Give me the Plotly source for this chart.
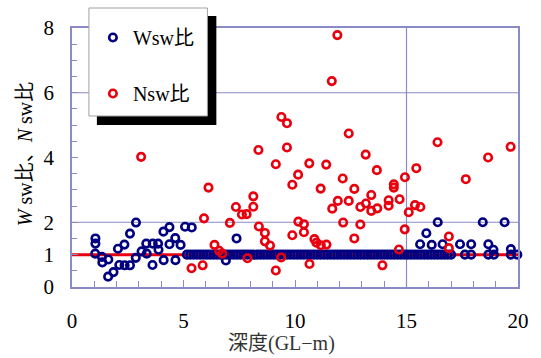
import plotly.graph_objects as go

# ---- data ----
wsw_x = [1.05, 1.05, 1.04, 1.34, 1.36, 1.63, 1.62, 1.86, 2.06, 2.12, 2.35, 2.36, 2.60, 2.60,
         2.87, 2.86, 3.12, 3.33, 3.35, 3.61, 3.62, 3.86, 3.88, 4.10, 4.11, 4.37, 4.37, 4.63,
         4.64, 4.87, 5.07, 5.37, 6.90, 7.38,
         5.15, 5.30, 5.45, 5.60, 5.75, 5.90, 6.05, 6.20, 6.35, 6.50, 6.65, 6.80, 6.95, 7.10,
         7.25, 7.40, 7.55, 7.70, 7.85, 8.00, 8.15, 8.30, 8.45, 8.60, 8.75, 8.90, 9.05, 9.20,
         9.35, 9.50, 9.65, 9.80, 9.95, 10.10, 10.25, 10.40, 10.55, 10.70, 10.85, 11.00, 11.15,
         11.30, 11.45, 11.60, 11.75, 11.90, 12.05, 12.20, 12.35, 12.50, 12.65, 12.80, 12.95,
         13.10, 13.25, 13.40, 13.55, 13.70, 13.85, 14.00, 14.15, 14.30, 14.45, 14.60, 14.75,
         14.90, 15.05, 15.20, 15.35, 15.50, 15.65, 15.80, 15.95, 16.10, 16.25, 16.40, 16.55,
         16.70, 16.85, 17.00,
         15.61, 15.89, 16.13, 16.40, 16.62, 17.40, 17.62, 17.90, 17.90, 18.42, 18.67, 18.67,
         18.90, 18.92, 19.40, 19.68, 19.68, 19.97]
wsw_y = [1.50, 1.34, 1.03, 0.93, 0.76, 0.85, 0.32, 0.46, 1.18, 0.68, 1.31, 0.67, 1.65, 0.67,
         1.99, 0.90, 1.10, 1.34, 1.03, 0.68, 1.34, 1.34, 1.15, 1.71, 0.83, 1.85, 1.32, 1.51,
         0.83, 1.30, 1.86, 1.84, 0.82, 1.50,
         1.0, 1.0, 1.0, 1.0, 1.0, 1.0, 1.0, 1.0, 1.0, 1.0, 1.0, 1.0, 1.0, 1.0,
         1.0, 1.0, 1.0, 1.0, 1.0, 1.0, 1.0, 1.0, 1.0, 1.0, 1.0, 1.0, 1.0, 1.0,
         1.0, 1.0, 1.0, 1.0, 1.0, 1.0, 1.0, 1.0, 1.0, 1.0, 1.0, 1.0, 1.0,
         1.0, 1.0, 1.0, 1.0, 1.0, 1.0, 1.0, 1.0, 1.0, 1.0, 1.0, 1.0,
         1.0, 1.0, 1.0, 1.0, 1.0, 1.0, 1.0, 1.0, 1.0, 1.0, 1.0, 1.0,
         1.0, 1.0, 1.0, 1.0, 1.0, 1.0, 1.0, 1.0, 1.0, 1.0, 1.0, 1.0,
         1.0, 1.0, 1.0,
         1.32, 1.66, 1.30, 2.00, 1.32, 1.32, 1.00, 1.32, 1.00, 2.00, 1.32, 1.00,
         1.15, 1.00, 2.00, 1.17, 1.00, 1.00]

nsw_x = [3.10, 5.36, 5.86, 5.92, 6.12, 6.39, 6.60, 6.74, 7.08, 7.35, 7.62, 7.83, 7.87, 8.13,
         8.13, 8.36, 8.38, 8.65, 8.65, 8.88, 9.14, 9.14, 9.38, 9.39, 9.64, 9.64, 9.88, 9.88,
         10.14, 10.15, 10.40, 10.40, 10.64, 10.65, 10.87, 10.96, 11.15, 11.16, 11.40, 11.41,
         11.65, 11.67, 11.90, 11.92, 12.14, 12.16, 12.41, 12.41, 12.66, 12.66, 12.93, 12.93,
         13.17, 13.18, 13.42, 13.42, 13.67, 13.69, 13.92, 14.20, 14.20, 14.43, 14.43, 14.66,
         14.69, 14.93, 14.92, 15.10, 15.38, 15.44, 15.62, 16.39, 16.90, 16.90, 17.66, 18.66,
         19.67]
nsw_y = [4.02, 0.58, 0.67, 2.12, 3.07, 1.30, 1.12, 1.03, 1.98, 2.47, 2.24, 2.25, 0.89, 2.80,
         2.48, 4.23, 1.87, 1.67, 1.41, 1.28, 3.79, 0.51, 0.91, 5.25, 5.06, 4.31, 3.16, 1.60,
         3.47, 2.02, 1.94, 1.69, 3.82, 0.71, 1.48, 1.37, 3.04, 1.29, 3.78, 1.31,
         6.36, 2.42, 7.78, 2.66, 3.35, 1.99, 4.74, 2.66, 3.03, 1.50, 2.47, 1.93,
         4.09, 2.58, 2.84, 2.35, 3.61, 2.43, 0.67, 2.68, 2.51, 3.17, 3.07, 1.16,
         2.71, 3.39, 1.78, 2.31, 2.53, 3.67, 2.47, 4.47, 1.56, 1.20, 3.33, 4.00,
         4.33]

ref_x = [0, 20]
ref_y = [1, 1]

x_ticks = [0, 5, 10, 15, 20]
y_ticks = [0, 1, 2, 4, 6, 8]
grid_y = [2, 6]
grid_x = [15]

BLUE = "#000080"
RED = "#e8000e"
AX = "#8a8ac6"
SERIF = "Liberation Serif, Noto Sans CJK JP, serif"

# plot area in pixels (for paper-coordinate conversion of the legend frame)
PL, PR, PT, PB = 72, 520, 28, 287


def px_x(p):
    return (p - PL) / (PR - PL)


def px_y(p):
    return (PB - p) / (PB - PT)


fig = go.Figure()
fig.add_trace(go.Scatter(x=ref_x, y=ref_y, mode="lines",
                         line=dict(color=RED, width=3), showlegend=False, hoverinfo="skip"))
fig.add_trace(go.Scatter(x=wsw_x, y=wsw_y, mode="markers", name="Wsw比", legendgroup="w",
                         cliponaxis=False,
                         marker=dict(symbol="circle-open", size=7.5, color=BLUE,
                                     line=dict(width=2.6, color=BLUE))))
fig.add_trace(go.Scatter(x=nsw_x, y=nsw_y, mode="markers", name="Nsw比", legendgroup="n",
                         cliponaxis=False,
                         marker=dict(symbol="circle-open", size=7.5, color=RED,
                                     line=dict(width=2.6, color=RED))))

shapes = []
for g in grid_y:
    shapes.append(dict(type="line", xref="paper", x0=0, x1=1, yref="y", y0=g, y1=g,
                       line=dict(color=AX, width=1.2), layer="below"))
for g in grid_x:
    shapes.append(dict(type="line", yref="paper", y0=0, y1=1, xref="x", x0=g, x1=g,
                       line=dict(color=AX, width=1.2), layer="below"))
# legend frame drop shadow
shapes.append(dict(type="rect", xref="paper", yref="paper",
                   x0=px_x(97), x1=px_x(217), y0=px_y(125), y1=px_y(16),
                   fillcolor="black", line=dict(width=0), layer="above"))
# legend frame white box
shapes.append(dict(type="rect", xref="paper", yref="paper",
                   x0=px_x(89), x1=px_x(208), y0=px_y(116), y1=px_y(8),
                   fillcolor="white", line=dict(color="#a0a0a0", width=1), layer="above"))

fig.update_layout(
    width=541, height=358,
    margin=dict(l=PL, r=541 - PR, t=PT, b=358 - PB),
    paper_bgcolor="white", plot_bgcolor="white",
    font=dict(family=SERIF, size=20, color="black"),
    showlegend=True,
    legend=dict(x=px_x(93), y=px_y(18), xanchor="left", yanchor="top",
                bgcolor="rgba(255,255,255,0)", borderwidth=0,
                font=dict(family=SERIF, size=20, color="black"),
                traceorder="grouped", tracegroupgap=27, itemsizing="trace"),
    shapes=shapes,
    xaxis=dict(range=[0, 20], tickmode="array", tickvals=x_ticks,
               ticks="inside", ticklen=7, tickcolor=AX, tickwidth=1,
               minor=dict(dtick=1, tick0=0, ticks="inside", ticklen=6, tickcolor=AX, showgrid=False),
               showline=True, linecolor=AX, linewidth=1.5, mirror=True,
               showgrid=False, zeroline=False,
               tickfont=dict(family=SERIF, size=21, color="black"),
               ticklabelstandoff=14),
    yaxis=dict(range=[0, 8], tickmode="array", tickvals=y_ticks,
               ticks="inside", ticklen=6, tickcolor=AX, tickwidth=1,
               minor=dict(dtick=0.5, tick0=0, ticks="inside", ticklen=5, tickcolor=AX, showgrid=False),
               showline=True, linecolor=AX, linewidth=1.5, mirror=True,
               showgrid=False, zeroline=False,
               tickfont=dict(family=SERIF, size=21, color="black"),
               ticklabelstandoff=12),
    annotations=[
        dict(text="深度(GL−m)", xref="paper", yref="paper",
             x=px_x(282), y=px_y(343), xanchor="center", yanchor="middle",
             showarrow=False, font=dict(family=SERIF, size=20, color="#333333")),
        dict(text="<i>W</i> sw比、<i>N</i> sw比", xref="paper", yref="paper",
             x=px_x(25), y=px_y(154), xanchor="center", yanchor="middle",
             textangle=-90, showarrow=False, font=dict(family=SERIF, size=20, color="black")),
    ],
)

fig.write_html("out.html")
